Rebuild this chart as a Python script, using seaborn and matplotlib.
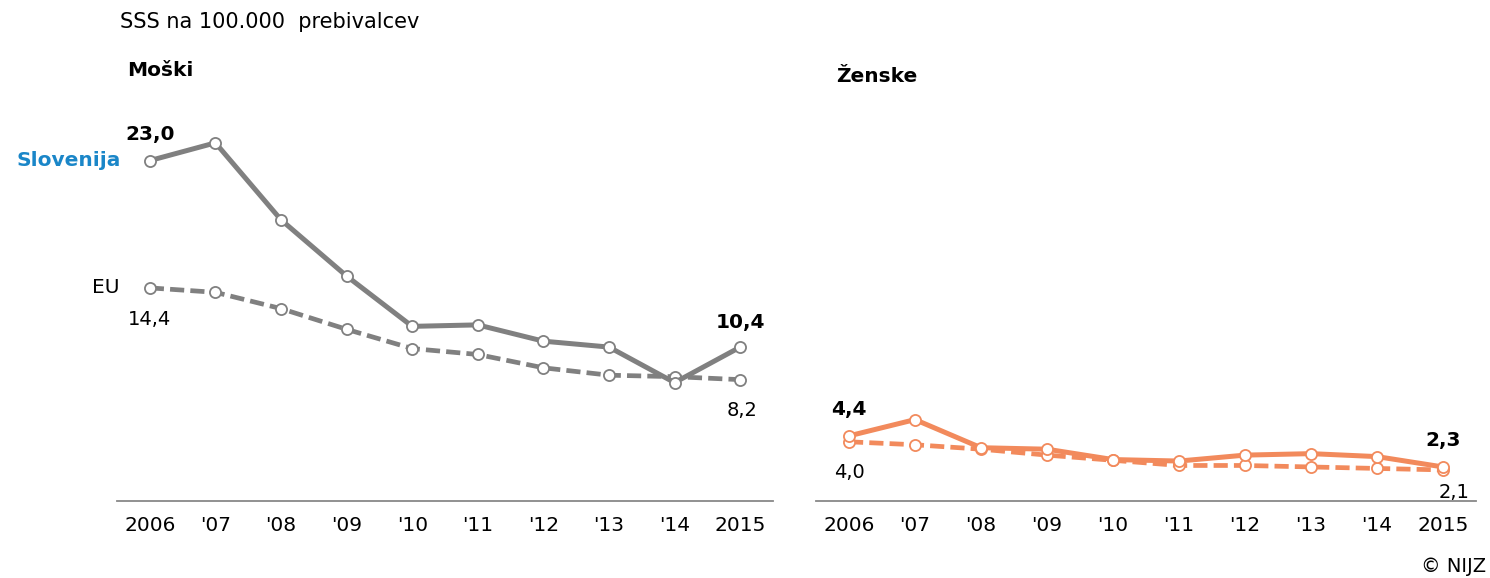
import numpy as np
import pandas as pd
import seaborn as sns
import matplotlib
matplotlib.use("Agg")
import matplotlib.pyplot as plt

# Data (SSS per 100,000 inhabitants)
years = ["2006", "'07", "'08", "'09", "'10", "'11", "'12", "'13", "'14", "2015"]
slo_men = [23.0, 24.2, 19.0, 15.2, 11.8, 11.9, 10.8, 10.4, 8.0, 10.4]
eu_men = [14.4, 14.1, 13.0, 11.6, 10.3, 9.9, 9.0, 8.5, 8.4, 8.2]
slo_women = [4.4, 5.5, 3.6, 3.5, 2.8, 2.7, 3.1, 3.2, 3.0, 2.3]
eu_women = [4.0, 3.8, 3.5, 3.1, 2.75, 2.4, 2.4, 2.3, 2.2, 2.1]

gray = "#808080"
orange = "#F28A5C"
blue = "#1A86C8"

sns.set_theme(style="white")
plt.rcParams['font.family'] = ['DejaVu Sans']
plt.rcParams['text.color'] = 'black'
plt.rcParams['xtick.color'] = 'black'

W, H = 1490, 578
fig = plt.figure(figsize=(W / 100, H / 100), dpi=100)

def fx(px):
    return px / W

def fy(py):
    return 1 - py / H

base = 501
ymax = 26
scale = 14.8
ax_h = ymax * scale / H
ax1 = fig.add_axes([fx(117), fy(base), fx(773 - 117), ax_h])
ax2 = fig.add_axes([fx(816), fy(base), fx(1476 - 816), ax_h])

def fmt(v):
    return f"{v:.1f}".replace(".", ",")

def draw(ax, slo, eu, color):
    x = np.arange(len(years))
    df = pd.DataFrame({"x": x, "slo": slo, "eu": eu})
    sns.lineplot(data=df, x="x", y="eu", ax=ax, color=color, linewidth=3.4,
                 linestyle=(0, (3.0, 1.3)), marker="o", markersize=8,
                 markerfacecolor="white", markeredgecolor=color,
                 markeredgewidth=1.3, zorder=2)
    sns.lineplot(data=df, x="x", y="slo", ax=ax, color=color, linewidth=3.6,
                 marker="o", markersize=8, markerfacecolor="white",
                 markeredgecolor=color, markeredgewidth=1.3, zorder=3)
    ax.set_xlim(-0.5, len(years) - 0.5)
    ax.set_ylim(0, ymax)
    ax.set_xticks(x)
    ax.set_xticklabels(years, fontsize=14.5)
    ax.tick_params(axis="x", length=0, pad=11)
    ax.set_yticks([])
    ax.set_xlabel("")
    ax.set_ylabel("")
    for s in ["top", "left", "right"]:
        ax.spines[s].set_visible(False)
    ax.spines["bottom"].set_color("#888888")
    ax.spines["bottom"].set_linewidth(1.3)
    ax.patch.set_alpha(0)

    last = len(years) - 1
    ax.annotate(fmt(slo[0]), (0, slo[0]), xytext=(0, 19), textcoords="offset points",
                ha="center", va="center", fontsize=14.5, fontweight="bold")
    ax.annotate(fmt(eu[0]), (0, eu[0]), xytext=(0, -23), textcoords="offset points",
                ha="center", va="center", fontsize=14)
    ax.annotate(fmt(slo[last]), (last, slo[last]), xytext=(0, 18), textcoords="offset points",
                ha="center", va="center", fontsize=14.5, fontweight="bold")
    ax.annotate(fmt(eu[last]), (last, eu[last]), xytext=(1, -22), textcoords="offset points",
                ha="center", va="center", fontsize=14)

draw(ax1, slo_men, eu_men, gray)
draw(ax2, slo_women, eu_women, orange)

# small per-panel tweaks of the end labels
ax2.texts[1].set_position((0, -22))
ax2.texts[2].set_position((0, 19))
ax2.texts[3].set_position((8, -16))

ax1.annotate("Slovenija", (0, slo_men[0]), xytext=(-21, 0), textcoords="offset points",
             ha="right", va="center", fontsize=14.5, fontweight="bold", color=blue)
ax1.annotate("EU", (0, eu_men[0]), xytext=(-22, 0), textcoords="offset points",
             ha="right", va="center", fontsize=14.5)

fig.text(fx(120), fy(22), "SSS na 100.000  prebivalcev", fontsize=15,
         va="center", ha="left")
fig.text(fx(127), fy(70), "Moški", fontsize=14.5, fontweight="bold", va="center", ha="left")
fig.text(fx(836), fy(77), "Ženske", fontsize=14.5, fontweight="bold", va="center", ha="left")
fig.text(fx(1486), fy(566), "© NIJZ", fontsize=14, va="center", ha="right")

fig.savefig("out.png", dpi=100)
